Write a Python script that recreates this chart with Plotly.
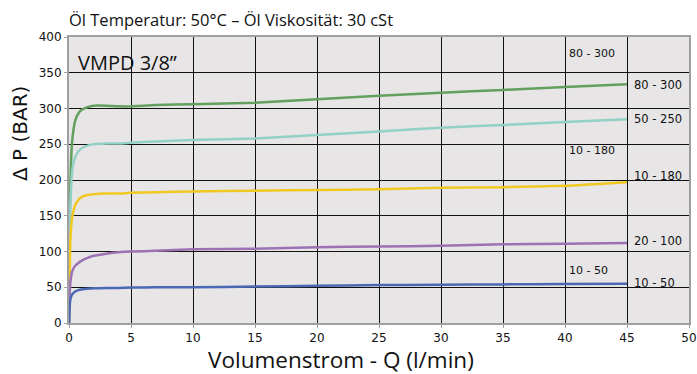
import plotly.graph_objects as go

flow = [0, 0.05, 0.1, 0.2, 0.3, 0.5, 0.75, 1, 1.5, 2, 3, 4, 5, 7, 10, 15, 20, 25, 30, 35, 40, 45]
p_80_300 = [0, 120, 190, 240, 262, 283, 293, 298, 302, 304, 304, 303, 303, 305, 306, 308, 313, 318, 322, 326, 330, 334]
p_50_250 = [0, 110, 160, 200, 218, 232, 240, 244, 248, 250, 251, 251, 252, 254, 256, 258, 263, 268, 273, 277, 281, 285]
p_10_180 = [0, 60, 110, 140, 152, 165, 172, 176, 179, 180, 181, 181, 182, 183, 184, 185, 186, 187, 189, 190, 192, 197]
p_20_100 = [0, 35, 55, 68, 74, 80, 84, 87, 91, 94, 97, 99, 100, 101, 103, 104, 106, 107, 108, 110, 111, 112]
p_10_50 = [0, 20, 32, 38, 41, 44, 46, 47, 48, 48.5, 49, 49, 49.5, 50, 50, 51, 52, 53, 53.5, 54, 54.5, 55]

series_names = ["80 - 300", "50 - 250", "10 - 180", "20 - 100", "10 - 50"]
series_vals = [p_80_300, p_50_250, p_10_180, p_20_100, p_10_50]
colors = ["#62a05e", "#93d0c6", "#efc822", "#9c72b4", "#4a68b4"]
end_label_y = [333, 285, 205, 115, 56]
inner_labels = ["80 - 300", "10 - 180", "10 - 50"]
inner_label_y = [377, 241, 74]

x_ticks = list(range(0, 51, 5))
y_ticks = list(range(0, 401, 50))

fig = go.Figure()
for name, vals, col in zip(series_names, series_vals, colors):
    fig.add_trace(go.Scatter(x=flow, y=vals, mode="lines", name=name,
                             line=dict(color=col, width=2.5, shape="spline", smoothing=0.4)))

for name, yv in zip(series_names, end_label_y):
    fig.add_annotation(x=45.4, y=yv, text=name, showarrow=False, xanchor="left",
                       yanchor="middle", font=dict(family="DejaVu Sans", size=11.5, color="#111"))
for name, yv in zip(inner_labels, inner_label_y):
    fig.add_annotation(x=40.2, y=yv, text=name, showarrow=False, xanchor="left",
                       yanchor="middle", font=dict(family="DejaVu Sans", size=11, color="#111"))

fig.add_annotation(x=0.6, y=365, text="VMPD 3/8\u201d", showarrow=False, xanchor="left",
                   yanchor="middle", font=dict(family="Open Sans", size=20, color="#111"))
fig.add_annotation(xref="paper", yref="paper", x=-0.003, y=1.0, yshift=18,
                   text="Öl Temperatur: 50°C – Öl Viskosität: 30 cSt", showarrow=False,
                   xanchor="left", yanchor="middle",
                   font=dict(family="Open Sans", size=16.5, color="#111"))
fig.add_annotation(xref="paper", yref="paper", x=0.439, y=-0.127,
                   text="Volumenstrom - Q (l/min)", showarrow=False,
                   xanchor="center", yanchor="middle",
                   font=dict(family="Open Sans", size=22.5, color="#111"))
fig.add_annotation(xref="paper", yref="paper", x=-0.079, y=0.661, textangle=-90,
                   text="Δ P (BAR)", showarrow=False,
                   xanchor="center", yanchor="middle",
                   font=dict(family="DejaVu Sans", size=20, color="#111"))

fig.update_layout(
    width=697, height=374,
    margin=dict(l=69, r=8, t=37, b=51),
    paper_bgcolor="white", plot_bgcolor="#e7e5e6",
    showlegend=False,
    xaxis=dict(range=[0, 50], tickvals=x_ticks, showgrid=True, gridcolor="#111", gridwidth=1,
               zeroline=False, showline=True, linecolor="#a0a0a0", linewidth=2, mirror=True,
               ticks="outside", ticklen=3, tickcolor="#a0a0a0", automargin=False,
               tickfont=dict(family="DejaVu Sans", size=12, color="#111")),
    yaxis=dict(range=[0, 400], tickvals=y_ticks, showgrid=True, gridcolor="#111", gridwidth=1,
               zeroline=False, showline=True, linecolor="#a0a0a0", linewidth=2, mirror=True,
               ticks="outside", ticklen=3, tickcolor="#a0a0a0", automargin=False,
               tickfont=dict(family="DejaVu Sans", size=12, color="#111")),
)

fig.write_html("out.html", config={"displayModeBar": False},
               post_script="document.body.style.margin='0px';document.body.style.overflow='hidden';")
